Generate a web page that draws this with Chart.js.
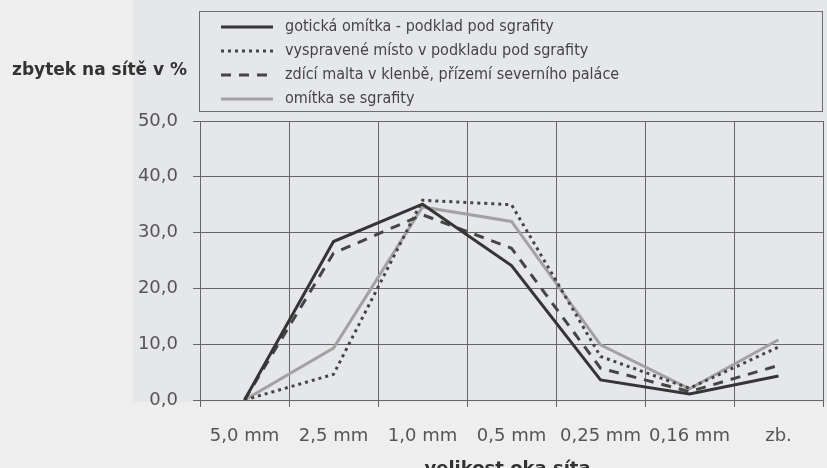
<!DOCTYPE html>
<html>
<head>
<meta charset="utf-8">
<script src="https://cdn.jsdelivr.net/npm/chart.js@4/dist/chart.umd.min.js"></script>
<style>
  html, body { margin: 0; padding: 0; background: #eeeeee; }
  #wrap { width: 827px; height: 468px; }
</style>
</head>
<body>
<div id="wrap"><canvas id="sito" width="827" height="468"></canvas></div>
<script>
// velikost oka síta
const categories = ['5,0 mm', '2,5 mm', '1,0 mm', '0,5 mm', '0,25 mm', '0,16 mm', 'zb.'];

// zbytek na sítě v %
const gotickaOmitka = [0, 28.4, 35.1, 24.1, 3.6, 1.1, 4.3];
const vyspraveneMisto = [0, 4.6, 35.8, 35.0, 7.8, 2.1, 9.5];
const zdiciMalta = [0, 26.3, 33.2, 27.2, 5.7, 1.5, 6.2];
const omitkaSgrafity = [0, 9.3, 34.6, 32.0, 9.9, 2.0, 10.8];

const seriesNames = [
  'gotická omítka - podklad pod sgrafity',
  'vyspravené místo v podkladu pod sgrafity',
  'zdící malta v klenbě, přízemí severního paláce',
  'omítka se sgrafity',
];
const yTicks = [0, 10, 20, 30, 40, 50];

const ink = '#555';
const gridColor = '#666';

// pozadí, rámeček legendy a popisky os
const paperPlugin = {
  id: 'paper',
  beforeDraw(chart) {
    const ctx = chart.ctx;
    ctx.save();
    ctx.fillStyle = '#e5e7ea';
    ctx.fillRect(133, 0, chart.width - 133, chart.chartArea.bottom + 2);
    ctx.restore();
  },
  afterDraw(chart) {
    const ctx = chart.ctx;
    const area = chart.chartArea;
    ctx.save();
    // legenda
    ctx.strokeStyle = '#6e6e6e';
    ctx.lineWidth = 1;
    ctx.strokeRect(area.left - 0.5, 11.5, area.right - area.left, 100);
    const rows = [27, 51, 75, 99];
    chart.data.datasets.forEach((ds, i) => {
      const y = rows[i];
      ctx.beginPath();
      ctx.setLineDash(ds.borderDash || []);
      ctx.strokeStyle = ds.borderColor;
      ctx.lineWidth = ds.borderWidth;
      ctx.moveTo(221, y);
      ctx.lineTo(273, y);
      ctx.stroke();
      ctx.setLineDash([]);
      ctx.fillStyle = '#444';
      ctx.font = '16px "Liberation Sans Narrow", "DejaVu Sans Condensed", "Roboto Condensed", sans-serif';
      ctx.textBaseline = 'middle';
      ctx.textAlign = 'left';
      ctx.fillText(ds.label, 285, y);
    });
    // název osy y
    ctx.fillStyle = '#333';
    ctx.font = 'bold 17px "DejaVu Sans", sans-serif';
    ctx.textBaseline = 'alphabetic';
    ctx.textAlign = 'left';
    ctx.fillText('zbytek na sítě v %', 12, 75);
    // název osy x
    ctx.font = 'bold 18px "DejaVu Sans", sans-serif';
    ctx.textAlign = 'center';
    ctx.fillText('velikost oka síta', (area.left + area.right) / 2 - 4, 474);
    ctx.restore();
  },
};

const lineSet = (label, data, color, dash) => ({
  label: label,
  data: data,
  borderColor: color,
  backgroundColor: color,
  borderWidth: 3,
  borderDash: dash,
  pointRadius: 0,
  tension: 0,
  fill: false,
});

new Chart(document.getElementById('sito'), {
  type: 'line',
  data: {
    labels: categories,
    datasets: [
      lineSet(seriesNames[0], gotickaOmitka, '#353535', []),
      lineSet(seriesNames[1], vyspraveneMisto, '#454545', [3, 4]),
      lineSet(seriesNames[2], zdiciMalta, '#454545', [10, 8]),
      lineSet(seriesNames[3], omitkaSgrafity, '#a2a2a2', []),
    ],
  },
  options: {
    responsive: false,
    animation: false,
    layout: { padding: { top: 121, right: 4, left: 0, bottom: 0 } },
    plugins: {
      legend: { display: false },
      tooltip: { enabled: false },
    },
    scales: {
      x: {
        offset: true,
        grid: { offset: true, color: gridColor, lineWidth: 1, tickLength: 7 },
        border: { color: gridColor },
        ticks: {
          color: ink,
          font: { family: 'DejaVu Sans', size: 18 },
          padding: 19,
          maxRotation: 0,
          autoSkip: false,
        },
        afterFit(scale) {
          scale.height = 68;
        },
      },
      y: {
        min: 0,
        max: 50,
        afterBuildTicks(scale) {
          scale.ticks = yTicks.map((v) => ({ value: v }));
        },
        grid: { color: gridColor, lineWidth: 1, tickLength: 7 },
        border: { color: gridColor },
        ticks: {
          color: ink,
          font: { family: 'DejaVu Sans', size: 18 },
          padding: 15,
          callback: (v) => v.toFixed(1).replace('.', ','),
        },
        afterFit(scale) {
          scale.width = 200;
        },
      },
    },
  },
  plugins: [paperPlugin],
});
</script>
</body>
</html>
